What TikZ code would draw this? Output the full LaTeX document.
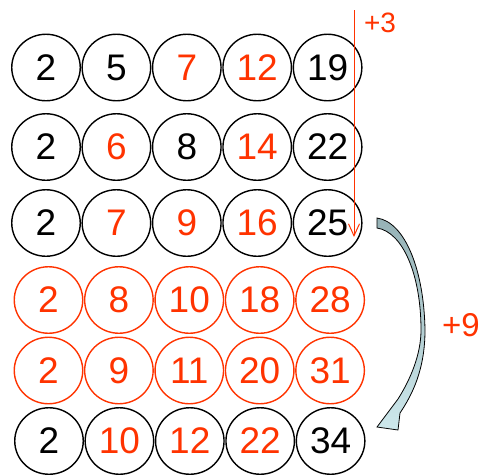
\documentclass[tikz,border=0pt]{standalone}
\usepackage{fontspec}
\setmainfont{Liberation Sans}
\usetikzlibrary{arrows.meta,shapes.geometric}
\definecolor{numred}{RGB}{255,51,0}
\definecolor{arrowtop}{RGB}{150,178,182}
\definecolor{arrowbot}{RGB}{205,232,236}

\begin{document}
\begin{tikzpicture}[x=1pt,y=-1pt,
    ball/.style={ellipse,draw,line width=1.4pt,minimum width=68.5pt,minimum height=66.5pt,inner sep=0pt,font=\fontsize{37}{40}\selectfont},
    step label/.style={text=numred,inner sep=0pt}]
    \useasboundingbox (0,0) rectangle (484,475);
    % row / y / first x / circle colour / numbers
    \foreach \r/\y/\xo/\cc/\nums in {
        1/67.5/46/black/{2/black,5/black,7/numred,12/numred,19/black},
        2/147/46/black/{2/black,6/numred,8/black,14/numred,22/black},
        3/223/46/black/{2/black,7/numred,9/numred,16/numred,25/black},
        4/300/48.5/numred/{2/numred,8/numred,10/numred,18/numred,28/numred},
        5/370.5/48.5/numred/{2/numred,9/numred,11/numred,20/numred,31/numred},
        6/441/49/black/{2/black,10/numred,12/numred,22/numred,34/black}}
      \foreach \n/\tc [count=\c] in \nums
        \node[ball,draw=\cc,text=\tc] (r\r c\c) at (\xo+70.4*\c-70.4,\y) {\n};
    % +3 down the last column
    \coordinate (threetop) at (354,10);
    \coordinate (threeend) at (354,237);
    \draw[numred,line width=1pt,-{Straight Barb[length=12pt,width=11pt,line width=1pt]}] (threetop) -- (threeend);
    \node[step label,font=\fontsize{28}{30}\selectfont] (plusthree) at (380,23) {+3};
    % curved +9 arrow
    \draw[line width=0.8pt,top color=arrowtop,bottom color=arrowbot]
        (377,218) .. controls (405,222) and (424,270) .. (425,330)
        .. controls (425,370) and (412,395) .. (400,413)
        -- (398,430) -- (377,427) -- (395,403) -- (398,399)
        .. controls (410,380) and (421,355) .. (421,330)
        .. controls (421,275) and (403,232) .. (377,228) -- cycle;
    \node[step label,font=\fontsize{33}{36}\selectfont] (plusnine) at (461,325) {+9};
\end{tikzpicture}
\end{document}
